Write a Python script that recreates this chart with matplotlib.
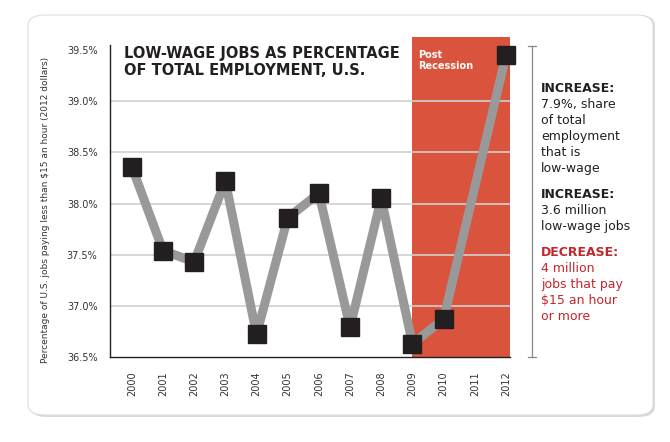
import matplotlib
matplotlib.use('Agg')
import matplotlib.pyplot as plt
import numpy as np
from matplotlib.patches import FancyBboxPatch, Rectangle
from matplotlib.lines import Line2D

# data (no point drawn for 2011)
years = [2000, 2001, 2002, 2003, 2004, 2005, 2006, 2007, 2008, 2009, 2010, 2012]
share = [38.36, 37.54, 37.43, 38.22, 36.72, 37.86, 38.10, 36.79, 38.05, 36.63, 36.87, 39.45]
tick_years = list(range(2000, 2013))
yticks = [36.5, 37.0, 37.5, 38.0, 38.5, 39.0, 39.5]
recession_start = 2009
recession_end = 2012

title = 'LOW-WAGE JOBS AS PERCENTAGE\nOF TOTAL EMPLOYMENT, U.S.'
ylabel = 'Percentage of U.S. jobs paying less than $15 an hour (2012 dollars)'
notes = [
    ('INCREASE:', ['7.9%, share', 'of total', 'employment', 'that is', 'low-wage'], '#231f20'),
    ('INCREASE:', ['3.6 million', 'low-wage jobs'], '#231f20'),
    ('DECREASE:', ['4 million', 'jobs that pay', '$15 an hour', 'or more'], '#c1272d'),
]

W, H = 670, 442
fig = plt.figure(figsize=(W / 100, H / 100), dpi=100)
fig.patch.set_facecolor('white')

def fx(x):
    return x / W

def fy(y):
    return 1 - y / H

# rounded card with soft shadow
shadow = FancyBboxPatch((fx(30), fy(417)), fx(625), (402) / H,
                        boxstyle='round,pad=0,rounding_size=0.025',
                        transform=fig.transFigure, facecolor='#d9d9d9',
                        edgecolor='none', zorder=-2)
card = FancyBboxPatch((fx(28), fy(415)), fx(625), (400) / H,
                      boxstyle='round,pad=0,rounding_size=0.025',
                      transform=fig.transFigure, facecolor='white',
                      edgecolor='#dddddd', linewidth=0.8, zorder=-1)
fig.patches.extend([shadow, card])

ax = fig.add_axes([fx(110), fy(357), fx(510) - fx(110), (357 - 45) / H])
ax.set_zorder(1)
ax.set_facecolor('none')
ax.set_xlim(1999.3, 2012.13)
ax.set_ylim(36.5, 39.55)

# post recession band, rising a little above the plot
ax.add_patch(Rectangle((recession_start, 36.5), recession_end + 0.13 - recession_start, 3.13,
                       facecolor='#d9533d', edgecolor='none', zorder=1, clip_on=False))
ax.text(2009.17, 39.50, 'Post\nRecession', color='white', fontsize=7, fontweight='bold',
        va='top', ha='left', linespacing=1.1, zorder=2)

for v in yticks[1:-1]:
    ax.axhline(v, color='#d0d0d0', linewidth=1.2, zorder=1.5)

ax.plot(years, share, color='#999999', linewidth=6.5, solid_joinstyle='round', zorder=3)
ax.plot(years, share, linestyle='none', marker='s', markersize=12.5,
        color='#231f20', zorder=4, clip_on=False)

ax.set_xticks(tick_years)
ax.set_xticklabels([str(y) for y in tick_years], rotation=90, fontsize=7, color='#333333')
ax.set_yticks(yticks)
ax.set_yticklabels(['%.1f%%' % v for v in yticks], fontsize=7, color='#333333')
ax.tick_params(axis='both', length=0)
ax.tick_params(axis='x', pad=10)
ax.tick_params(axis='y', pad=9)
for s in ['top', 'right']:
    ax.spines[s].set_visible(False)
for s in ['left', 'bottom']:
    ax.spines[s].set_color('#231f20')
    ax.spines[s].set_linewidth(1.0)
    ax.spines[s].set_zorder(5)

ax.set_ylabel(ylabel, fontsize=6.5, color='#333333', labelpad=10)
ax.yaxis.set_label_coords(-0.15, 0.47)

fig.text(fx(124), fy(46), title, fontsize=10.5, fontweight='bold', color='#231f20',
         va='top', ha='left', linespacing=1.2, zorder=3)

# bracket on the right
fig.add_artist(Line2D([fx(532), fx(532)], [fy(46), fy(357)], color='#888888', linewidth=0.9))
for yy in (46, 357):
    fig.add_artist(Line2D([fx(528), fx(536)], [fy(yy), fy(yy)], color='#888888', linewidth=0.9))

y = 88
for head, lines, col in notes:
    fig.text(fx(541), fy(y), head, fontsize=9, fontweight='bold', color=col, va='center', ha='left')
    y += 16.3
    for ln in lines:
        fig.text(fx(541), fy(y), ln, fontsize=9, color=col, va='center', ha='left')
        y += 16.1
    y += 9.5

fig.savefig('out.png', dpi=100)
